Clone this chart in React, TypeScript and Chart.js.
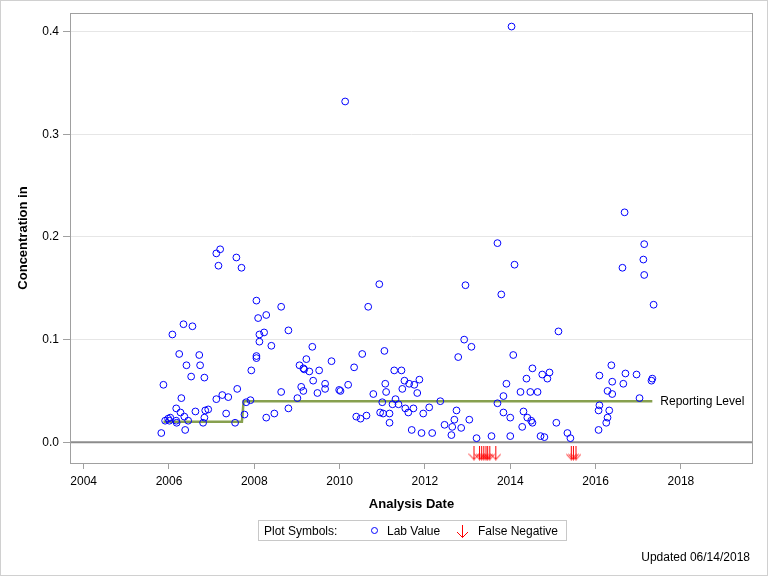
import React, { useEffect, useRef } from 'react';
import { Chart, registerables } from 'chart.js';

Chart.register(...registerables);

// Lab values: sample date (decimal year) and concentration
const LAB_DATES = [
  2005.82, 2005.87, 2005.91, 2005.98, 2006.03, 2006.01, 2006.08, 2006.17, 2006.17, 2006.18,
  2006.24, 2006.27, 2006.29, 2006.34, 2006.36, 2006.38, 2006.41, 2006.45, 2006.52, 2006.55,
  2006.62, 2006.71, 2006.73, 2006.80, 2006.83, 2006.83, 2006.85, 2006.92, 2007.11, 2007.11,
  2007.20, 2007.16, 2007.25, 2007.34, 2007.39, 2007.55, 2007.58, 2007.60, 2007.70, 2007.77,
  2007.81, 2007.91, 2007.93, 2008.05, 2008.05, 2008.05, 2008.09, 2008.12, 2008.12, 2008.23,
  2008.28, 2008.28, 2008.40, 2008.47, 2008.63, 2008.63, 2008.80, 2008.80, 2009.01, 2009.06,
  2009.10, 2009.15, 2009.17, 2009.15, 2009.22, 2009.29, 2009.36, 2009.38, 2009.48, 2009.52,
  2009.66, 2009.66, 2009.81, 2009.99, 2010.02, 2010.13, 2010.20, 2010.34, 2010.39, 2010.49,
  2010.53, 2010.63, 2010.67, 2010.79, 2010.93, 2010.95, 2011.00, 2011.02, 2011.05, 2011.07,
  2011.09, 2011.17, 2011.17, 2011.24, 2011.28, 2011.31, 2011.38, 2011.45, 2011.47, 2011.52,
  2011.54, 2011.61, 2011.63, 2011.69, 2011.73, 2011.75, 2011.82, 2011.87, 2011.92, 2011.96,
  2012.10, 2012.17, 2012.36, 2012.46, 2012.62, 2012.64, 2012.69, 2012.74, 2012.78, 2012.85,
  2012.92, 2012.95, 2013.04, 2013.09, 2013.21, 2013.56, 2013.70, 2013.70, 2013.79, 2013.84,
  2013.84, 2013.91, 2014.00, 2014.00, 2014.03, 2014.07, 2014.10, 2014.24, 2014.28, 2014.31,
  2014.38, 2014.40, 2014.47, 2014.49, 2014.52, 2014.52, 2014.64, 2014.71, 2014.75, 2014.80,
  2014.87, 2014.92, 2015.08, 2015.13, 2015.34, 2015.41, 2016.07, 2016.07, 2016.09, 2016.09,
  2016.25, 2016.28, 2016.28, 2016.32, 2016.37, 2016.39, 2016.39, 2016.63, 2016.65, 2016.68,
  2016.70, 2016.96, 2017.03, 2017.12, 2017.14, 2017.14, 2017.31, 2017.33, 2017.36,
];
const LAB_VALUES = [
  0.009, 0.056, 0.021, 0.023, 0.024, 0.021, 0.105, 0.033, 0.021, 0.019,
  0.086, 0.029, 0.043, 0.115, 0.025, 0.012, 0.075, 0.021, 0.064, 0.113,
  0.030, 0.085, 0.075, 0.019, 0.024, 0.063, 0.031, 0.032, 0.042, 0.184,
  0.188, 0.172, 0.046, 0.028, 0.044, 0.019, 0.180, 0.052, 0.170, 0.027,
  0.039, 0.041, 0.070, 0.138, 0.084, 0.082, 0.121, 0.105, 0.098, 0.107,
  0.124, 0.024, 0.094, 0.028, 0.132, 0.049, 0.109, 0.033, 0.043, 0.075,
  0.054, 0.072, 0.071, 0.050, 0.081, 0.069, 0.093, 0.060, 0.048, 0.070,
  0.057, 0.052, 0.079, 0.051, 0.050, 0.332, 0.056, 0.073, 0.025, 0.023,
  0.086, 0.026, 0.132, 0.047, 0.154, 0.029, 0.039, 0.028, 0.089, 0.057,
  0.049, 0.028, 0.019, 0.037, 0.070, 0.042, 0.037, 0.070, 0.052, 0.060,
  0.033, 0.029, 0.057, 0.012, 0.033, 0.056, 0.048, 0.061, 0.009, 0.028,
  0.034, 0.009, 0.040, 0.017, 0.007, 0.015, 0.022, 0.031, 0.083, 0.014,
  0.100, 0.153, 0.022, 0.093, 0.004, 0.006, 0.194, 0.038, 0.144, 0.045,
  0.029, 0.057, 0.024, 0.006, 0.405, 0.085, 0.173, 0.049, 0.015, 0.030,
  0.062, 0.024, 0.049, 0.021, 0.019, 0.072, 0.049, 0.006, 0.066, 0.005,
  0.062, 0.068, 0.019, 0.108, 0.009, 0.004, 0.012, 0.031, 0.036, 0.065,
  0.019, 0.024, 0.050, 0.031, 0.075, 0.059, 0.047, 0.170, 0.057, 0.224,
  0.067, 0.066, 0.043, 0.178, 0.193, 0.163, 0.060, 0.062, 0.134,
];

// Reporting level (step line)
const REPORT_DATES = [2005.87, 2007.71, 2007.75, 2017.33];
const REPORT_LEVELS = [0.02, 0.02, 0.04, 0.04];

// False negative sample dates (drawn as arrows just below zero)
const FN_DATES = [
  2013.15, 2013.28, 2013.33, 2013.38, 2013.43, 2013.47, 2013.52, 2013.66,
  2015.43, 2015.48, 2015.54,
];
const FN_MARKER_LEVEL = -0.0105;

const X_TICKS = [2004, 2006, 2008, 2010, 2012, 2014, 2016, 2018];
const Y_TICKS = [0.0, 0.1, 0.2, 0.3, 0.4];
const X_MIN = 2003.68;
const X_MAX = 2019.69;
const Y_MIN = -0.0202;
const Y_MAX = 0.4182;

const FONT = '"Liberation Sans", Arial, Helvetica, sans-serif';

function makeArrow(): HTMLCanvasElement {
  const c = document.createElement('canvas');
  c.width = 11;
  c.height = 15;
  const g = c.getContext('2d')!;
  g.strokeStyle = '#ff0000';
  g.lineWidth = 1;
  g.beginPath();
  g.moveTo(5.5, 0);
  g.lineTo(5.5, 14.5);
  g.moveTo(0.5, 8.5);
  g.lineTo(5.5, 14);
  g.lineTo(10.5, 8.5);
  g.stroke();
  return c;
}

const decorPlugin = {
  id: 'decor',
  beforeDatasetsDraw(chart: any) {
    const { ctx, chartArea: a, scales } = chart;
    const y0 = scales.y.getPixelForValue(0);
    ctx.save();
    ctx.strokeStyle = '#8c8c8c';
    ctx.lineWidth = 2;
    ctx.beginPath();
    ctx.moveTo(a.left, y0);
    ctx.lineTo(a.right, y0);
    ctx.stroke();
    ctx.restore();
  },
  afterDatasetsDraw(chart: any) {
    const { ctx } = chart;
    const meta = chart.getDatasetMeta(0);
    const last = meta.data[meta.data.length - 1];
    if (!last) return;
    ctx.save();
    ctx.fillStyle = '#000';
    ctx.font = `12px ${FONT}`;
    ctx.textBaseline = 'middle';
    ctx.textAlign = 'left';
    ctx.fillText('Reporting Level', last.x + 8, last.y);
    ctx.restore();
  },
  afterDraw(chart: any) {
    const { ctx, chartArea: a } = chart;
    ctx.save();
    ctx.strokeStyle = '#a0a0a0';
    ctx.lineWidth = 1;
    ctx.strokeRect(a.left + 0.5, a.top + 0.5, a.right - a.left - 1, a.bottom - a.top);
    ctx.restore();
  },
};

export default function App() {
  const ref = useRef<HTMLCanvasElement | null>(null);

  useEffect(() => {
    if (!ref.current) return;
    const arrow = makeArrow();
    const chart = new Chart(ref.current, {
      type: 'scatter',
      data: {
        datasets: [
          {
            label: 'Reporting Level',
            data: REPORT_DATES.map((x, i) => ({ x, y: REPORT_LEVELS[i] })),
            showLine: true,
            borderColor: '#87a04f',
            borderWidth: 2.5,
            pointRadius: 0,
            fill: false,
            tension: 0,
            order: 3,
          },
          {
            label: 'Lab Value',
            data: LAB_DATES.map((x, i) => ({ x, y: LAB_VALUES[i] })),
            pointStyle: 'circle',
            pointRadius: 3.4,
            borderColor: '#0000ff',
            backgroundColor: 'rgba(0,0,0,0)',
            borderWidth: 1,
            order: 1,
          },
          {
            label: 'False Negative',
            data: FN_DATES.map((x) => ({ x, y: FN_MARKER_LEVEL })),
            pointStyle: arrow as any,
            pointRadius: 3,
            order: 2,
          },
        ],
      },
      options: {
        animation: false,
        responsive: false,
        events: [],
        layout: { padding: { top: 13, right: 15, left: 12, bottom: 61 } },
        plugins: {
          legend: { display: false },
          tooltip: { enabled: false },
        },
        scales: {
          x: {
            type: 'linear',
            min: X_MIN,
            max: X_MAX,
            afterBuildTicks: (axis: any) => {
              axis.ticks = X_TICKS.map((v) => ({ value: v }));
            },
            afterFit: (axis: any) => {
              axis.height = 52;
            },
            ticks: {
              font: { family: FONT, size: 12 },
              color: '#000',
              padding: 5,
              maxRotation: 0,
              autoSkip: false,
              callback: (v: any) => String(v),
            },
            grid: {
              drawOnChartArea: false,
              drawTicks: true,
              tickLength: 6,
              tickColor: '#a0a0a0',
            },
            border: { display: false },
            title: {
              display: true,
              text: 'Analysis Date',
              font: { family: FONT, size: 13, weight: 'bold' },
              color: '#000',
              padding: { top: 4, bottom: 3 },
            },
          },
          y: {
            type: 'linear',
            min: Y_MIN,
            max: Y_MAX,
            afterBuildTicks: (axis: any) => {
              axis.ticks = Y_TICKS.map((v) => ({ value: v }));
            },
            afterFit: (axis: any) => {
              axis.width = 58;
            },
            ticks: {
              font: { family: FONT, size: 12 },
              color: '#000',
              padding: 4,
              callback: (v: any) => Number(v).toFixed(1),
            },
            grid: {
              color: (c: any) => (c.tick && c.tick.value === 0 ? 'rgba(0,0,0,0)' : '#e6e6e6'),
              tickLength: 7,
              tickColor: '#a0a0a0',
            },
            border: { display: false },
            title: {
              display: true,
              text: 'Concentration in',
              font: { family: FONT, size: 13, weight: 'bold' },
              color: '#000',
              padding: { top: 4, bottom: 4 },
            },
          },
        },
      },
      plugins: [decorPlugin],
    } as any);
    return () => chart.destroy();
  }, []);

  const textStyle: React.CSSProperties = {
    position: 'absolute',
    top: 3,
    whiteSpace: 'nowrap',
  };

  return (
    <div
      style={{
        position: 'absolute',
        left: 0,
        top: 0,
        width: 768,
        height: 576,
        background: '#fff',
        fontFamily: FONT,
        fontSize: 12,
        color: '#000',
      }}
    >
      <canvas ref={ref} width={768} height={576} style={{ position: 'absolute', left: 0, top: 0 }} />
      <div
        style={{
          position: 'absolute',
          left: 258,
          top: 520,
          width: 309,
          height: 21,
          border: '1px solid #c8c8c8',
          boxSizing: 'border-box',
          lineHeight: '14px',
        }}
      >
        <span style={{ ...textStyle, left: 5 }}>Plot Symbols:</span>
        <span
          style={{
            position: 'absolute',
            left: 112,
            top: 6,
            width: 5,
            height: 5,
            border: '1px solid #0000ff',
            borderRadius: '50%',
          }}
        />
        <span style={{ ...textStyle, left: 128 }}>Lab Value</span>
        <svg
          width={13}
          height={13}
          style={{ position: 'absolute', left: 197, top: 4 }}
          viewBox="0 0 13 13"
        >
          <path d="M6.5 0 L6.5 12.5 M1 7 L6.5 12.5 L12 7" stroke="#ff0000" strokeWidth={1} fill="none" />
        </svg>
        <span style={{ ...textStyle, left: 219 }}>False Negative</span>
      </div>
      <span style={{ position: 'absolute', right: 18, top: 550, whiteSpace: 'nowrap', lineHeight: '14px' }}>
        Updated 06/14/2018
      </span>
      <div
        style={{
          position: 'absolute',
          left: 0,
          top: 0,
          width: 768,
          height: 576,
          border: '1px solid #d0d0d0',
          boxSizing: 'border-box',
          pointerEvents: 'none',
        }}
      />
    </div>
  );
}
